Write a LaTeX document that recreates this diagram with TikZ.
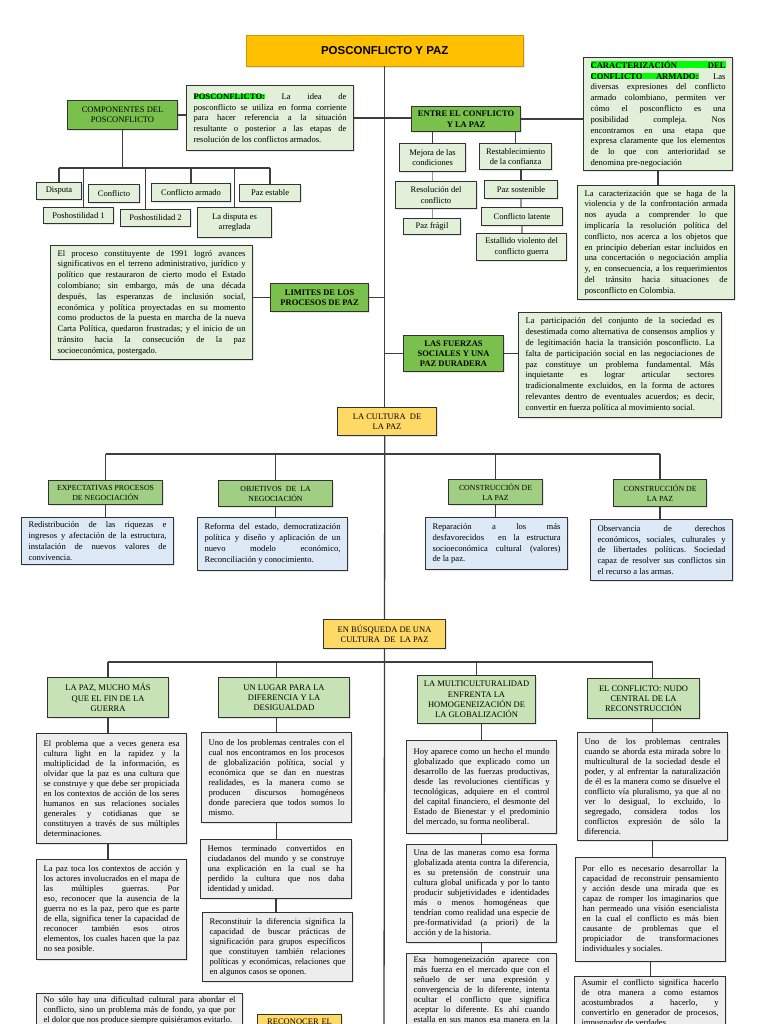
\documentclass[tikz,border=0pt]{standalone}
\usepackage{fontspec}
\setmainfont{Liberation Serif}
\newfontfamily\titlefont{Liberation Sans}
\usetikzlibrary{shadows}
\newcommand\mynohyph{\frenchspacing\hyphenpenalty=10000\exhyphenpenalty=10000\tolerance=10000\hbadness=10000\hfuzz=8pt}
\newcommand\mybr{\linebreak}
\definecolor{bord}{RGB}{50,50,50}
\definecolor{ln}{RGB}{62,62,62}
\definecolor{lnl}{RGB}{150,150,150}
\definecolor{titleor}{RGB}{255,192,0}
\definecolor{dkg}{RGB}{122,192,76}
\definecolor{mdg}{RGB}{160,206,130}
\definecolor{lg}{RGB}{199,226,180}
\definecolor{vlg}{RGB}{226,239,217}
\definecolor{blu}{RGB}{221,233,246}
\definecolor{gry}{RGB}{237,237,237}
\definecolor{yel}{RGB}{255,217,102}
\definecolor{hl}{RGB}{0,255,0}
\begin{document}
\begin{tikzpicture}[x=1pt,y=-1pt,
  bx/.style={draw=bord, line width=1.1pt, anchor=north west, inner xsep=7pt, inner ysep=3pt,
    font=\fontsize{8.6}{10.8}\selectfont\mynohyph,
    drop shadow={shadow xshift=1.5pt, shadow yshift=-1.5pt, opacity=0.2}},
  lbl/.style={bx, align=center, inner xsep=2pt, font=\fontsize{8.5}{10.3}\selectfont},
  lblb/.style={lbl, font=\fontsize{8.5}{10.3}\selectfont\bfseries},
  lbls/.style={lbl, font=\fontsize{7.8}{10}\selectfont},
  txt/.style={bx, align=justify},
  gtxt/.style={bx, align=justify, fill=gry, font=\fontsize{8.6}{10}\selectfont\mynohyph},
  conn/.style={draw=ln, line width=1.3pt},
  connl/.style={draw=lnl, line width=1.3pt}]
\useasboundingbox (0,0) rectangle (768,1024);
\clip (0,0) rectangle (768,1024);
\fill[white] (0,0) rectangle (768,1024);

% ---------- top section ----------
\node[lbl, fill=titleor, draw=titleor!80!black, line width=0.5pt, minimum width=277, minimum height=31,
  font=\titlefont\bfseries\fontsize{11.5}{13}\selectfont] (title) at (246,35) {POSCONFLICTO Y PAZ};

\node[lbl, fill=dkg, minimum width=110, minimum height=29] (comp) at (67,100) {COMPONENTES DEL\\POSCONFLICTO};
\node[txt, fill=vlg, text width=153, minimum height=65] (posc) at (186,85)
 {{\fboxsep=0pt\colorbox{hl}{\textbf{POSCONFLICTO:}}} La idea de\mybr
  posconflicto se utiliza en forma corriente\mybr
  para hacer referencia a la situación\mybr
  resultante o posterior a las etapas de\mybr
  resolución de los conflictos armados.};

\node[lbl, fill=vlg, minimum width=45, minimum height=17] (disp) at (36,182) {Disputa};
\node[lbl, fill=vlg, minimum width=51, minimum height=18] (conf) at (88,184) {Conflicto};
\node[lbl, fill=vlg, minimum width=79, minimum height=18] (carm) at (151,183) {Conflicto armado};
\node[lbl, fill=vlg, minimum width=61, minimum height=17] (pest) at (239,184) {Paz estable};
\node[lbl, fill=vlg, minimum width=70, minimum height=16] (ph1) at (43,207) {Poshostilidad 1};
\node[lbl, fill=vlg, minimum width=70, minimum height=17] (ph2) at (120,209) {Poshostilidad 2};
\node[lbl, fill=vlg, minimum width=74, minimum height=30] (arreg) at (197,207) {La disputa es\\arreglada};

\node[lblb, fill=dkg, minimum width=109, minimum height=25] (entre) at (411,106) {ENTRE EL CONFLICTO\\Y LA PAZ};
\node[lbl, fill=vlg, minimum width=66, minimum height=28] (mejora) at (399,143) {Mejora de las\\condiciones};
\node[lbl, fill=vlg, minimum width=72, minimum height=26] (restab) at (479,143) {Restablecimiento\\de la confianza};
\node[lbl, fill=vlg, minimum width=81, minimum height=27] (resol) at (395,181) {Resolución del\\conflicto};
\node[lbl, fill=vlg, minimum width=57, minimum height=16] (fragil) at (403,218) {Paz frágil};
\node[lbl, fill=vlg, minimum width=73, minimum height=18] (sost) at (484,180) {Paz sostenible};
\node[lbl, fill=vlg, minimum width=81, minimum height=18] (latente) at (481,207) {Conflicto latente};
\node[lbl, fill=vlg, minimum width=90, minimum height=27] (estall) at (476,233) {Estallido violento del\\conflicto guerra};

\node[txt, fill=vlg, text width=135, minimum height=113] (carac) at (583,57)
 {{\fboxsep=0pt\colorbox{hl}{\makebox[\linewidth][s]{\textbf{CARACTERIZACIÓN DEL}}}}\par
  {\fboxsep=0pt\colorbox{hl}{\makebox[0.8\linewidth][s]{\textbf{CONFLICTO ARMADO:}}}}\hspace{\fill}Las\par
  diversas expresiones del conflicto\mybr
  armado colombiano, permiten ver\mybr
  cómo el posconflicto es una\mybr
  posibilidad compleja. Nos\mybr
  encontramos en una etapa que\mybr
  expresa claramente que los elementos\mybr
  de lo que con anterioridad se\mybr
  denomina pre-negociación};
\node[txt, fill=vlg, text width=143, minimum height=114] (ctxt) at (577,185)
 {La caracterización que se haga de la\mybr
  violencia y de la confrontación armada\mybr
  nos ayuda a comprender lo que\mybr
  implicaría la resolución política del\mybr
  conflicto, nos acerca a los objetos que\mybr
  en principio deberían estar incluidos en\mybr
  una concertación o negociación amplia\mybr
  y, en consecuencia, a los requerimientos\mybr
  del tránsito hacia situaciones de\mybr
  posconflicto en Colombia.};

\node[lblb, fill=dkg, minimum width=98, minimum height=28] (lim) at (270,283) {LIMITES DE LOS\\PROCESOS DE PAZ};
\node[txt, fill=vlg, text width=188, minimum height=114] (ltxt) at (50,245)
 {El proceso constituyente de 1991 logró avances\mybr
  significativos en el terreno administrativo, jurídico y\mybr
  político que restauraron de cierto modo el Estado\mybr
  colombiano; sin embargo, más de una década\mybr
  después, las esperanzas de inclusión social,\mybr
  económica y política proyectadas en su momento\mybr
  como productos de la puesta en marcha de la nueva\mybr
  Carta Política, quedaron frustradas; y el inicio de un\mybr
  tránsito hacia la consecución de la paz\mybr
  socioeconómica, postergado.};

\node[lblb, fill=dkg, minimum width=100, minimum height=36] (fuer) at (403,335) {LAS FUERZAS\\SOCIALES Y UNA\\PAZ DURADERA};
\node[txt, fill=vlg, text width=189, minimum height=105] (ftxt) at (518,312)
 {La participación del conjunto de la sociedad es\mybr
  desestimada como alternativa de consensos amplios y\mybr
  de legitimación hacia la transición posconflicto. La\mybr
  falta de participación social en las negociaciones de\mybr
  paz constituye un problema fundamental. Más\mybr
  inquietante es lograr articular sectores\mybr
  tradicionalmente excluidos, en la forma de actores\mybr
  relevantes dentro de eventuales acuerdos; es decir,\mybr
  convertir en fuerza política al movimiento social.};

\node[lbl, fill=yel, minimum width=99, minimum height=28] (cult) at (337,407) {LA CULTURA\ \ DE\\LA PAZ};

% ---------- middle section ----------
\node[lbls, fill=mdg, minimum width=114, minimum height=24] (exp) at (48,480) {EXPECTATIVAS PROCESOS\\DE NEGOCIACIÓN};
\node[lbls, fill=mdg, minimum width=114, minimum height=26] (obj) at (218,480) {OBJETIVOS\ \ DE\ \ LA\\NEGOCIACIÓN};
\node[lbls, fill=mdg, minimum width=94, minimum height=25] (con1) at (448,479) {CONSTRUCCIÓN DE\\LA PAZ};
\node[lbls, fill=mdg, minimum width=93, minimum height=27] (con2) at (613,479) {CONSTRUCCIÓN DE\\LA PAZ};

\node[txt, fill=blu, text width=138, minimum height=47] (expb) at (21,517)
 {Redistribución de las riquezas e\mybr
  ingresos y afectación de la estructura,\mybr
  instalación de nuevos valores de\mybr
  convivencia.};
\node[txt, fill=blu, text width=136, minimum height=53] (objb) at (197,517)
 {Reforma del estado, democratización\mybr
  política y diseño y aplicación de un\mybr
  nuevo modelo económico,\mybr
  Reconciliación y conocimiento.};
\node[txt, fill=blu, text width=128, minimum height=52] (con1b) at (425,517)
 {Reparación a los más\mybr
  desfavorecidos\ \ en la estructura\mybr
  socioeconómica cultural (valores)\mybr
  de la paz.};
\node[txt, fill=blu, text width=128, minimum height=61] (con2b) at (590,519)
 {Observancia de derechos\mybr
  económicos, sociales, culturales y\mybr
  de libertades políticas. Sociedad\mybr
  capaz de resolver sus conflictos sin\mybr
  el recurso a las armas.};

\node[lbl, fill=yel, minimum width=122, minimum height=29] (busq) at (323,619) {EN BÚSQUEDA DE UNA\\CULTURA\ \ DE\ \ LA PAZ};

% ---------- bottom section ----------
\node[lbl, fill=lg, minimum width=121, minimum height=40] (paz) at (47,677) {LA PAZ, MUCHO MÁS\\QUE EL FIN DE LA\\GUERRA};
\node[lbl, fill=lg, minimum width=131, minimum height=40] (lugar) at (218,677) {UN LUGAR PARA LA\\DIFERENCIA Y LA\\DESIGUALDAD};
\node[lbl, fill=lg, minimum width=118, minimum height=48] (mult) at (417,675) {LA MULTICULTURALIDAD\\ENFRENTA LA\\HOMOGENEIZACIÓN DE\\LA GLOBALIZACIÓN};
\node[lbl, fill=lg, minimum width=112, minimum height=40] (nudo) at (587,678) {EL CONFLICTO: NUDO\\CENTRAL DE LA\\RECONSTRUCCIÓN};

\node[gtxt, text width=136, minimum height=110] (a1) at (36,733)
 {El problema que a veces genera esa\mybr
  cultura light en la rapidez y la\mybr
  multiplicidad de la información, es\mybr
  olvidar que la paz es una cultura que\mybr
  se construye y que debe ser propiciada\mybr
  en los contextos de acción de los seres\mybr
  humanos en sus relaciones sociales\mybr
  generales y cotidianas que se\mybr
  constituyen a través de sus múltiples\mybr
  determinaciones.};
\node[gtxt, text width=136, minimum height=100] (a2) at (36,859)
 {La paz toca los contextos de acción y\mybr
  los actores involucrados en el mapa de\mybr
  las múltiples guerras. Por\mybr
  eso, reconocer que la ausencia de la\mybr
  guerra no es la paz, pero que es parte\mybr
  de ella, significa tener la capacidad de\mybr
  reconocer también esos otros\mybr
  elementos, los cuales hacen que la paz\mybr
  no sea posible.};
\node[gtxt, text width=192] (a3) at (36,993)
 {No sólo hay una dificultad cultural para abordar el\mybr
  conflicto, sino un problema más de fondo, ya que por\mybr
  el dolor que nos produce siempre quisiéramos evitarlo.\par\rule{0pt}{30pt}};
\node[lbl, fill=yel, text width=80, inner ysep=4pt] (recon) at (257,1014) {RECONOCER EL\par\rule{0pt}{30pt}};

\node[gtxt, text width=136, minimum height=90] (b1) at (201,732)
 {Uno de los problemas centrales con el\mybr
  cual nos encontramos en los procesos\mybr
  de globalización política, social y\mybr
  económica que se dan en nuestras\mybr
  realidades, es la manera como se\mybr
  producen discursos homogéneos\mybr
  donde pareciera que todos somos lo\mybr
  mismo.};
\node[gtxt, text width=137, minimum height=59] (b2) at (200,839)
 {Hemos terminado convertidos en\mybr
  ciudadanos del mundo y se construye\mybr
  una explicación en la cual se ha\mybr
  perdido la cultura que nos daba\mybr
  identidad y unidad.};
\node[gtxt, text width=136, minimum height=69] (b3) at (202,912)
 {Reconstituir la diferencia significa la\mybr
  capacidad de buscar prácticas de\mybr
  significación para grupos específicos\mybr
  que constituyen también relaciones\mybr
  políticas y económicas, relaciones que\mybr
  en algunos casos se oponen.};

\node[gtxt, text width=136, minimum height=93] (c1) at (406,740)
 {Hoy aparece como un hecho el mundo\mybr
  globalizado que explicado como un\mybr
  desarrollo de las fuerzas productivas,\mybr
  desde las revoluciones científicas y\mybr
  tecnológicas, adquiere en el control\mybr
  del capital financiero, el desmonte del\mybr
  Estado de Bienestar y el predominio\mybr
  del mercado, su forma neoliberal.};
\node[gtxt, text width=136, minimum height=98] (c2) at (406,844)
 {Una de las maneras como esa forma\mybr
  globalizada atenta contra la diferencia,\mybr
  es su pretensión de construir una\mybr
  cultura global unificada y por lo tanto\mybr
  producir subjetividades e identidades\mybr
  más o menos homogéneas que\mybr
  tendrían como realidad una especie de\mybr
  pre-formatividad (a priori) de la\mybr
  acción y de la historia.};
\node[gtxt, text width=136] (c3) at (406,953)
 {Esa homogeneización aparece con\mybr
  más fuerza en el mercado que con el\mybr
  señuelo de ser una expresión y\mybr
  convergencia de lo diferente, intenta\mybr
  ocultar el conflicto que significa\mybr
  aceptar lo diferente. Es ahí cuando\mybr
  estalla en sus manos esa manera en la\mybr
  \rule{0pt}{30pt}};

\node[gtxt, text width=136, minimum height=108] (d1) at (577,732)
 {Uno de los problemas centrales\mybr
  cuando se aborda esta mirada sobre lo\mybr
  multicultural de la sociedad desde el\mybr
  poder, y al enfrentar la naturalización\mybr
  de él es la manera como se disuelve el\mybr
  conflicto vía pluralismo, ya que al no\mybr
  ver lo desigual, lo excluido, lo\mybr
  segregado, considera todos los\mybr
  conflictos expresión de sólo la\mybr
  diferencia.};
\node[gtxt, text width=136, minimum height=104] (d2) at (575,857)
 {Por ello es necesario desarrollar la\mybr
  capacidad de reconstruir pensamiento\mybr
  y acción desde una mirada que es\mybr
  capaz de romper los imaginarios que\mybr
  han permeado una visión esencialista\mybr
  en la cual el conflicto es más bien\mybr
  causante de problemas que el\mybr
  propiciador de transformaciones\mybr
  individuales y sociales.};
\node[gtxt, text width=137] (d3) at (574,976)
 {Asumir el conflicto significa hacerlo\mybr
  de otra manera a como estamos\mybr
  acostumbrados a hacerlo, y\mybr
  convertirlo en generador de procesos,\mybr
  impugnador de verdades\par\rule{0pt}{30pt}};

% ---------- coordinates ----------
\coordinate (barA) at (116,168);
\coordinate (barB) at (384,454);
\coordinate (barC) at (384,662);
\coordinate (spineEnd) at (384,1030);
\coordinate (ph1top) at ([xshift=5pt]ph1.north);
\coordinate (ph2top) at ([xshift=-10pt]ph2.north);

% ---------- connectors ----------
\draw[conn] (title.south) -- (title.south |- cult.north);
\draw[conn] (title.south |- cult.south) -- (busq.north);
\draw[conn] (busq.south) -- (spineEnd);
\draw[conn] (posc.east) -- (entre.west |- posc.east);
\draw[conn] (comp.east) -- (posc.west |- comp.east);
\draw[conn] (entre.east) -- (carac.west |- entre.east);
\draw[conn] (carac.south) -- (carac.south |- ctxt.north);
\draw[conn] (comp.south) -- (comp.south |- barA);
\draw[conn] (disp.north |- barA) -- (pest.north |- barA);
\draw[conn] (disp.north) -- (disp.north |- barA);
\draw[conn] (ph1top) -- (ph1top |- barA);
\draw[conn] (ph2top) -- (ph2top |- barA);
\draw[conn] (carm.north) -- (carm.north |- barA);
\draw[conn] (arreg.north) -- (arreg.north |- barA);
\draw[conn] (pest.north) -- (pest.north |- barA);
\draw[conn] (mejora.north) -- (mejora.north |- entre.south);
\draw[conn] (restab.north) -- (restab.north |- entre.south);
\draw[connl] (mejora.south) -- (mejora.south |- resol.north);
\draw[connl] (mejora.south |- resol.south) -- (mejora.south |- fragil.north);
\draw[conn] (sost.north |- restab.south) -- (sost.north);
\draw[connl] (sost.south) -- (sost.south |- latente.north);
\draw[connl] (latente.south) -- (latente.south |- estall.north);
\draw[conn] (lim.east) -- (title.south |- lim.east);
\draw[conn] (lim.west) -- (ltxt.east |- lim.west);
\draw[conn] (fuer.west) -- (title.south |- fuer.west);
\draw[conn] (fuer.east) -- (ftxt.west |- fuer.east);
\draw[conn] (exp.north |- barB) -- (con2.north |- barB);
\foreach \n in {exp,obj,con1,con2} {
  \draw[conn] (\n.north) -- (\n.north |- barB);
  \draw[conn] (\n.south) -- (\n.south |- \n b.north);
}
\draw[conn] (paz.north |- barC) -- (d1.north |- barC);
\draw[conn] (paz.north) -- (paz.north |- barC);
\draw[conn] (b1.north |- lugar.north) -- (b1.north |- barC);
\draw[conn] (mult.north) -- (mult.north |- barC);
\draw[conn] (d1.north |- nudo.north) -- (d1.north |- barC);
\draw[conn] (paz.south) -- (paz.south |- a1.north);
\draw[conn] (paz.south |- a1.south) -- (paz.south |- a2.north);
\draw[conn] (b1.north |- lugar.south) -- (b1.north);
\draw[conn] (b1.south) -- (b1.south |- b2.north);
\draw[conn] (b2.south) -- (b2.south |- b3.north);
\draw[conn] (c1.north |- mult.south) -- (c1.north);
\draw[conn] (c1.south) -- (c1.south |- c2.north);
\draw[conn] (c2.south) -- (c2.south |- c3.north);
\draw[conn] (d1.north |- nudo.south) -- (d1.north);
\draw[conn] (d1.south) -- (d1.south |- d2.north);
\draw[conn] (d2.south) -- (d2.south |- d3.north);
\end{tikzpicture}
\end{document}
